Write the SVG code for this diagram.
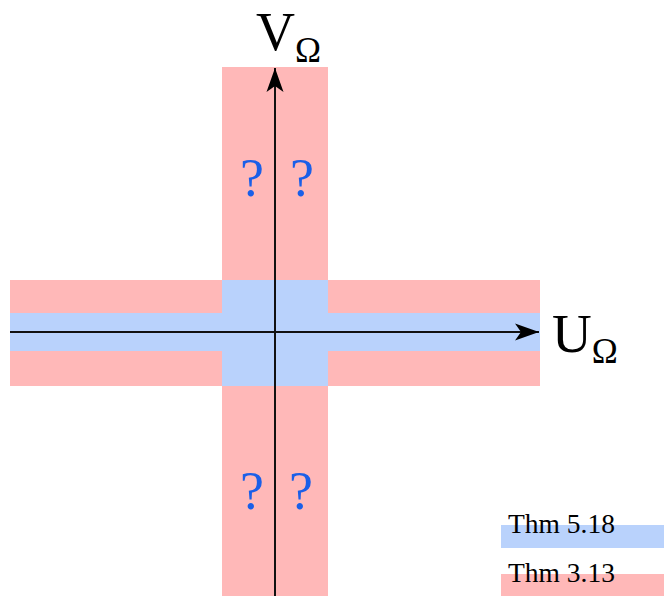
<svg xmlns="http://www.w3.org/2000/svg" width="664" height="596" viewBox="0 0 664 596">
<style>
.pink{fill:#ffb8b8}
.blue{fill:#b9d2fc}
.q{font-family:"Liberation Serif",serif;font-size:54px;fill:#1a5fe8;text-anchor:middle}
.lab{font-family:"Liberation Serif",serif;fill:#000}
.leg{font-family:"Liberation Serif",serif;font-size:27.5px;fill:#000}
.axis{stroke:#111;stroke-width:2;fill:none}
</style>
<defs>
<marker id="ah" markerUnits="userSpaceOnUse" markerWidth="26" markerHeight="20" refX="24" refY="10" orient="auto">
<path d="M24,10 L0,1.5 L6,10 L0,18.5 Z" fill="#000"/>
</marker>
</defs>
<g id="regions">
<rect class="pink" x="222" y="67" width="106" height="529"/>
<rect class="pink" x="10" y="280" width="530" height="106"/>
<rect class="blue" x="222" y="280" width="106" height="106"/>
<rect class="blue" x="10" y="313" width="530" height="38"/>
</g>
<g id="marks">
<text class="q" x="252" y="196">?</text>
<text class="q" x="302" y="196">?</text>
<text class="q" x="252" y="509">?</text>
<text class="q" x="301" y="509">?</text>
</g>
<g id="connectors">
<line class="axis" x1="275" y1="596" x2="275" y2="68" marker-end="url(#ah)"/>
<line class="axis" x1="10" y1="332" x2="539" y2="332" marker-end="url(#ah)"/>
</g>
<g id="labels">
<text class="lab" x="256" y="50" font-size="54">V<tspan font-size="35" dy="12">&#937;</tspan></text>
<text class="lab" x="552" y="352" font-size="55">U<tspan font-size="35" dy="11">&#937;</tspan></text>
</g>
<g id="legend">
<rect class="blue" x="501" y="525" width="163" height="23"/>
<text class="leg" x="508" y="533">Thm 5.18</text>
<rect class="pink" x="501" y="574" width="163" height="22"/>
<text class="leg" x="508" y="582">Thm 3.13</text>
</g>
</svg>
